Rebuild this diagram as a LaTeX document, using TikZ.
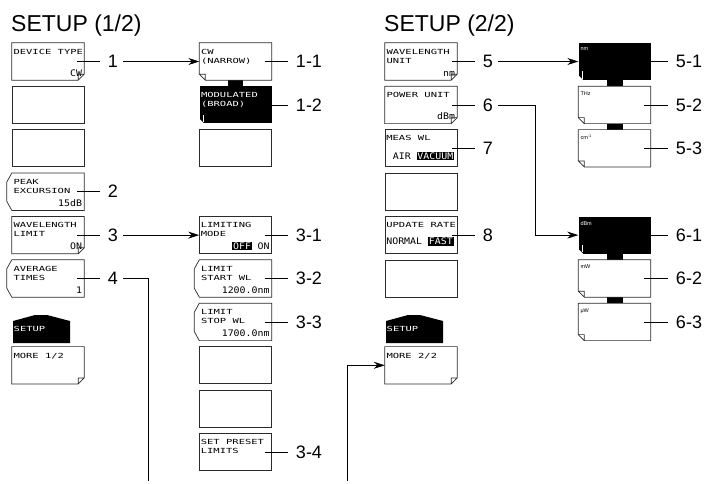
\documentclass[tikz,border=0pt]{standalone}
\usepackage{fontspec}
\setmainfont{Liberation Sans}
\newfontfamily\lcdfamily[FakeStretch=1.5]{DejaVu Sans Mono}
\newfontfamily\valfamily[FakeStretch=1.1]{DejaVu Sans Mono}
\usetikzlibrary{arrows.meta}
\definecolor{keyColor}{HTML}{2B2B2B}

\newcommand{\keyfont}{\lcdfamily\fontsize{7}{9}\selectfont}
\newcommand{\valfont}{\valfamily\fontsize{9}{10}\selectfont}
\newcommand{\unitfont}{\fontsize{5.5}{6}\selectfont}
\newcommand{\hilite}[1]{{\setlength{\fboxsep}{0.8pt}\colorbox{black}{\textcolor{white}{#1}}}}

% key outlines
\newcommand{\earright}[1]{%
  \draw[keyedge] (#1.north west) -- (#1.north east) -- ([yshift=6pt]#1.south east)
    -- ([xshift=-6pt]#1.south east) -- (#1.south west) -- cycle
    ([yshift=6pt]#1.south east) -- ([shift={(-6pt,6pt)}]#1.south east) -- ([xshift=-6pt]#1.south east);}
\newcommand{\earleft}[1]{%
  \draw[keyedge] (#1.north west) -- (#1.north east) -- (#1.south east)
    -- ([xshift=6pt]#1.south west) -- ([yshift=6pt]#1.south west) -- cycle
    ([yshift=6pt]#1.south west) -- ([shift={(6pt,6pt)}]#1.south west) -- ([xshift=6pt]#1.south west);}
\newcommand{\earblack}[1]{%
  \fill[white] (#1.south west) -- ([yshift=5pt]#1.south west) -- ([xshift=5pt]#1.south west) -- cycle;
  \draw[white, line width=0.7pt] ([shift={(4pt,9pt)}]#1.south west) -- ([shift={(4pt,1.5pt)}]#1.south west);}
\newcommand{\bracketkey}[1]{%
  \draw[keyedge] (#1.north west) -- (#1.north east) -- (#1.south east) -- (#1.south west)
    -- ([shift={(-5pt,9pt)}]#1.south west) -- ([shift={(-5pt,-9pt)}]#1.north west) -- cycle;}

\begin{document}
\begin{tikzpicture}[x=1pt, y=-1pt,
    keybox/.style={minimum width=72pt, minimum height=37pt, inner sep=0pt},
    plainkey/.style={keybox, draw=keyColor, line width=0.7pt},
    darkkey/.style={keybox, fill=black},
    keyedge/.style={draw=keyColor, line width=0.7pt},
    keycap/.style={label={[anchor=north west, inner sep=0pt, xshift=1.5pt, yshift=-6pt, align=left, font=\keyfont]north west:#1}},
    darkcap/.style={label={[anchor=north west, inner sep=0pt, xshift=1.5pt, yshift=-6pt, align=left, font=\keyfont, text=white]north west:#1}},
    keyval/.style={label={[anchor=south east, inner sep=0pt, xshift=-2pt, yshift=3.5pt, font=\valfont]south east:#1}},
    keyunit/.style={label={[anchor=north west, inner sep=0pt, xshift=2pt, yshift=-5pt, font=\unitfont]north west:#1}},
    darkunit/.style={label={[anchor=north west, inner sep=0pt, xshift=2pt, yshift=-5pt, font=\unitfont, text=white]north west:#1}},
    numlabel/.style={font=\fontsize{18}{18}\selectfont, inner xsep=5pt, inner ysep=0pt},
    pagetitle/.style={font=\fontsize{23}{23}\selectfont, anchor=base west, inner sep=0pt},
    ldr/.style={line width=0.8pt},
    arr/.style={line width=0.8pt, -{Stealth[length=11pt, width=7pt]}},
  ]
  \useasboundingbox (0,0) rectangle (707,483);

  % SETUP (1/2)
  \node[pagetitle] (titleA) at (11,31.5) {SETUP (1/2)};
  \node[keybox, keycap=DEVICE TYPE, keyval=CW] (devtype) at (48,61.5) {};
  \node[plainkey] (blankA1) at (48,104.9) {};
  \node[plainkey] (blankA2) at (48,148.3) {};
  \node[keybox, keycap=PEAK\\EXCURSION, keyval=15dB] (peakexc) at (48,191.7) {};
  \node[keybox, keycap=WAVELENGTH\\LIMIT, keyval=ON] (wllimit) at (48,235.1) {};
  \node[keybox, keycap=AVERAGE\\TIMES, keyval=1] (avgtimes) at (48,278.5) {};
  \fill (13,343) -- (13,321) -- (35,315) -- (47,315) -- (70,321) -- (70,343) -- cycle;
  \node[font=\keyfont, text=white, anchor=west, inner sep=0pt] (tabA) at (13.5,329) {SETUP};
  \node[keybox, keycap=MORE 1/2] (moreA) at (48,365.3) {};
  \earright{devtype}
  \bracketkey{peakexc}
  \earright{wllimit}
  \bracketkey{avgtimes}
  \earright{moreA}

  % device type choices
  \node[keybox, keycap=CW\\(NARROW)] (cw) at (235.5,61.5) {};
  \node[darkkey, darkcap=MODULATED\\(BROAD)] (modulated) at (235.5,104.9) {};
  \node[plainkey] (blankB1) at (235.5,148.3) {};
  \fill ([xshift=-7.5pt]cw.south) rectangle ([xshift=7.5pt]modulated.north);
  \earleft{cw}
  \earblack{modulated}

  % wavelength limit keys
  \node[plainkey, keycap=LIMITING\\MODE, keyval={\hilite{OFF} ON}] (limmode) at (235.5,235.1) {};
  \node[keybox, keycap=LIMIT\\START WL, keyval=1200.0nm] (limstart) at (235.5,278.5) {};
  \node[keybox, keycap=LIMIT\\STOP WL, keyval=1700.0nm] (limstop) at (235.5,321.9) {};
  \node[plainkey] (blankB2) at (235.5,365.3) {};
  \node[plainkey] (blankB3) at (235.5,408.7) {};
  \node[plainkey, keycap=SET PRESET\\LIMITS] (presetlim) at (235.5,452.1) {};
  \bracketkey{limstart}
  \bracketkey{limstop}

  % SETUP (2/2)
  \node[pagetitle] (titleC) at (384,31.5) {SETUP (2/2)};
  \node[keybox, keycap=WAVELENGTH\\UNIT, keyval=nm] (wlunit) at (421,61.5) {};
  \node[keybox, keycap=POWER UNIT, keyval=dBm] (pwrunit) at (421,104.9) {};
  \node[plainkey, keycap=MEAS WL] (measwl) at (421,148.3) {};
  \node[font=\valfont, anchor=south west, inner sep=0pt] (airvac) at ([shift={(8pt,7pt)}]measwl.south west) {AIR \hilite{VACUUM}};
  \node[plainkey] (blankC1) at (421,191.7) {};
  \node[plainkey, keycap=UPDATE RATE] (updrate) at (421,235.1) {};
  \node[font=\valfont, anchor=south west, inner sep=0pt] (normfast) at ([shift={(1.5pt,8pt)}]updrate.south west) {NORMAL \hilite{FAST}};
  \node[plainkey] (blankC2) at (421,278.5) {};
  \fill (386,343) -- (386,321) -- (408,315) -- (420,315) -- (443,321) -- (443,343) -- cycle;
  \node[font=\keyfont, text=white, anchor=west, inner sep=0pt] (tabC) at (386.5,329) {SETUP};
  \node[keybox, keycap=MORE 2/2] (moreC) at (421,365.3) {};
  \earright{wlunit}
  \earright{pwrunit}
  \earright{moreC}

  % unit choices
  \node[darkkey, darkunit=nm] (nm) at (614.5,61.5) {};
  \node[keybox, keyunit=THz] (thz) at (614.5,104.9) {};
  \node[keybox, keyunit=cm\textsuperscript{-1}] (cm) at (614.5,148.3) {};
  \fill ([xshift=-8pt]nm.south) rectangle ([xshift=8pt]thz.north);
  \fill ([xshift=-8pt]thz.south) rectangle ([xshift=8pt]cm.north);
  \earblack{nm}
  \earleft{thz}
  \earleft{cm}
  \node[darkkey, darkunit=dBm] (dbm) at (614.5,235.1) {};
  \node[keybox, keyunit=mW] (mw) at (614.5,278.5) {};
  \node[keybox, keyunit=μW] (uw) at (614.5,321.9) {};
  \fill ([xshift=-8pt]dbm.south) rectangle ([xshift=8pt]mw.north);
  \fill ([xshift=-8pt]mw.south) rectangle ([xshift=8pt]uw.north);
  \earblack{dbm}
  \earleft{mw}
  \earleft{uw}

  % numbers
  \node[numlabel] (n1) at (113,61.5) {1};
  \node[numlabel] (n2) at (113,191.7) {2};
  \node[numlabel] (n3) at (113,235.1) {3};
  \node[numlabel] (n4) at (113,278.5) {4};
  \node[numlabel] (n11) at (309,61.5) {1-1};
  \node[numlabel] (n12) at (309,104.9) {1-2};
  \node[numlabel] (n31) at (309,235.1) {3-1};
  \node[numlabel] (n32) at (309,278.5) {3-2};
  \node[numlabel] (n33) at (309,321.9) {3-3};
  \node[numlabel] (n34) at (309,452.1) {3-4};
  \node[numlabel] (n5) at (488,61.5) {5};
  \node[numlabel] (n6) at (488,104.9) {6};
  \node[numlabel] (n7) at (488,148.3) {7};
  \node[numlabel] (n8) at (488,235.1) {8};
  \node[numlabel] (n51) at (689,61.5) {5-1};
  \node[numlabel] (n52) at (689,104.9) {5-2};
  \node[numlabel] (n53) at (689,148.3) {5-3};
  \node[numlabel] (n61) at (689,235.1) {6-1};
  \node[numlabel] (n62) at (689,278.5) {6-2};
  \node[numlabel] (n63) at (689,321.9) {6-3};

  % leaders
  \draw[ldr] ([xshift=-7pt]devtype.east) -- ([xshift=-3pt]n1.west);
  \draw[ldr] ([xshift=-7pt]peakexc.east) -- ([xshift=-3pt]n2.west);
  \draw[ldr] ([xshift=-7pt]wllimit.east) -- ([xshift=-3pt]n3.west);
  \draw[ldr] ([xshift=-7pt]avgtimes.east) -- ([xshift=-3pt]n4.west);
  \draw[ldr] ([xshift=-7pt]cw.east) -- ([xshift=-3pt]n11.west);
  \draw[ldr] ([xshift=-7pt]modulated.east) -- ([xshift=-3pt]n12.west);
  \draw[ldr] ([xshift=-7pt]limmode.east) -- ([xshift=-3pt]n31.west);
  \draw[ldr] ([xshift=-7pt]limstart.east) -- ([xshift=-3pt]n32.west);
  \draw[ldr] ([xshift=-7pt]limstop.east) -- ([xshift=-3pt]n33.west);
  \draw[ldr] ([xshift=-7pt]presetlim.east) -- ([xshift=-3pt]n34.west);
  \draw[ldr] ([xshift=-5pt]wlunit.east) -- ([xshift=-3pt]n5.west);
  \draw[ldr] ([xshift=-5pt]pwrunit.east) -- ([xshift=-3pt]n6.west);
  \draw[ldr] ([xshift=-5pt]measwl.east) -- ([xshift=-3pt]n7.west);
  \draw[ldr] ([xshift=-5pt]updrate.east) -- ([xshift=-3pt]n8.west);
  \draw[ldr] ([xshift=-7pt]nm.east) -- ([xshift=-3pt]n51.west);
  \draw[ldr] ([xshift=-7pt]thz.east) -- ([xshift=-3pt]n52.west);
  \draw[ldr] ([xshift=-7pt]cm.east) -- ([xshift=-3pt]n53.west);
  \draw[ldr] ([xshift=-7pt]dbm.east) -- ([xshift=-3pt]n61.west);
  \draw[ldr] ([xshift=-7pt]mw.east) -- ([xshift=-3pt]n62.west);
  \draw[ldr] ([xshift=-7pt]uw.east) -- ([xshift=-3pt]n63.west);

  % arrows
  \draw[arr] (n1) -- (cw);
  \draw[arr] (n3) -- (limmode);
  \draw[arr] (n5) -- (nm);
  \coordinate (bend6) at (535,104.9);
  \draw[arr] (n6) -- (bend6) |- (dbm);
  \coordinate (foot4) at (148,481);
  \draw[ldr] (n4) -| (foot4);
  \coordinate (foot9) at (347,481);
  \draw[arr] (foot9) |- (moreC);
\end{tikzpicture}
\end{document}
